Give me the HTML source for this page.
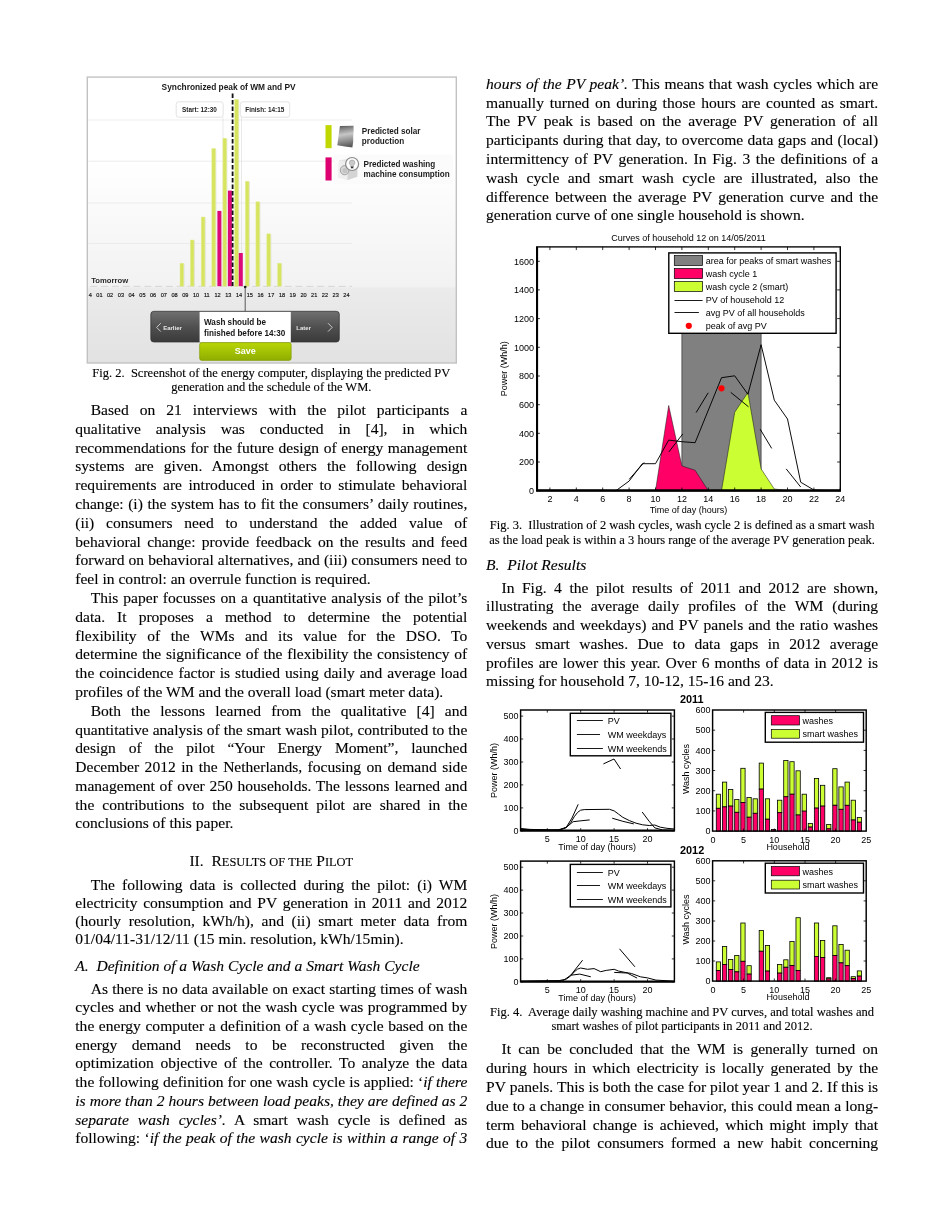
<!DOCTYPE html>
<html><head><meta charset="utf-8"><title>page</title>
<style>
html,body{margin:0;padding:0;background:#fff;}
body{width:952px;height:1232px;position:relative;overflow:hidden;font-family:"Liberation Serif",serif;color:#000;}
.l{position:absolute;font-size:15.56px;line-height:19.0px;height:19.0px;white-space:nowrap;overflow:visible;-webkit-text-stroke:0.12px #000;}
.j{text-align:justify;text-align-last:justify;white-space:normal;}
.a{text-align:left;}
.c{text-align:center;}
.sc{font-size:0.8em;}
svg{position:absolute;left:0;top:0;}
svg text{font-family:"Liberation Sans",sans-serif;}
</style></head><body>
<svg width="952" height="1232" viewBox="0 0 952 1232">
<defs>
<linearGradient id="bg2" x1="0" y1="0" x2="0" y2="1">
<stop offset="0" stop-color="#ffffff"/><stop offset="0.3" stop-color="#ffffff"/><stop offset="0.73" stop-color="#f2f2f2"/><stop offset="0.74" stop-color="#ebebeb"/><stop offset="1" stop-color="#e2e2e2"/>
</linearGradient>
<linearGradient id="dk" x1="0" y1="0" x2="0" y2="1"><stop offset="0" stop-color="#707070"/><stop offset="0.5" stop-color="#505050"/><stop offset="1" stop-color="#3a3a3a"/></linearGradient>
<linearGradient id="gr" x1="0" y1="0" x2="0" y2="1"><stop offset="0" stop-color="#b9d606"/><stop offset="1" stop-color="#8ead00"/></linearGradient>
<linearGradient id="sol" x1="0" y1="0" x2="0.12" y2="1"><stop offset="0" stop-color="#4e4e4e"/><stop offset="0.2" stop-color="#8a8a8a"/><stop offset="0.45" stop-color="#c6c6c6"/><stop offset="0.75" stop-color="#8e8e8e"/><stop offset="1" stop-color="#5c5c5c"/></linearGradient>
</defs>
<rect x="87.3" y="77.1" width="369.0" height="285.9" fill="url(#bg2)" stroke="#c2c2c2" stroke-width="1.4"/>
<line x1="88.3" y1="120" x2="352" y2="120" stroke="#e9e9e9" stroke-width="0.8"/>
<line x1="88.3" y1="161.2" x2="352" y2="161.2" stroke="#e9e9e9" stroke-width="0.8"/>
<line x1="88.3" y1="203" x2="352" y2="203" stroke="#e9e9e9" stroke-width="0.8"/>
<line x1="88.3" y1="243.5" x2="352" y2="243.5" stroke="#e9e9e9" stroke-width="0.8"/>
<line x1="90.3" y1="286.4" x2="352" y2="286.4" stroke="#d4d4d4" stroke-width="0.9" stroke-dasharray="7 3.8"/>
<rect x="176.2" y="101.8" width="47" height="15.4" rx="2.5" fill="#fff" stroke="#dcdcdc" stroke-width="0.8"/>
<rect x="240.3" y="101.8" width="49.4" height="15.4" rx="2.5" fill="#fff" stroke="#dcdcdc" stroke-width="0.8"/>
<line x1="223.0" y1="117" x2="223.0" y2="286" stroke="#e0e0e0" stroke-width="0.7"/>
<line x1="241.5" y1="117" x2="241.5" y2="286" stroke="#e0e0e0" stroke-width="0.7"/>
<rect x="180.6" y="263.8" width="3.9" height="22.4" fill="#c9c9b8" opacity="0.5"/>
<rect x="180.0" y="263.2" width="3.7" height="23.0" fill="#d6e45f" stroke="#e6efa0" stroke-width="0.5"/>
<rect x="190.9" y="240.6" width="3.9" height="45.6" fill="#c9c9b8" opacity="0.5"/>
<rect x="190.3" y="240.0" width="3.7" height="46.2" fill="#d6e45f" stroke="#e6efa0" stroke-width="0.5"/>
<rect x="201.8" y="217.6" width="3.9" height="68.6" fill="#c9c9b8" opacity="0.5"/>
<rect x="201.2" y="217.0" width="3.7" height="69.2" fill="#d6e45f" stroke="#e6efa0" stroke-width="0.5"/>
<rect x="212.4" y="149.1" width="3.9" height="137.1" fill="#c9c9b8" opacity="0.5"/>
<rect x="211.8" y="148.5" width="3.7" height="137.7" fill="#d6e45f" stroke="#e6efa0" stroke-width="0.5"/>
<rect x="223.5" y="138.8" width="3.9" height="147.4" fill="#c9c9b8" opacity="0.5"/>
<rect x="222.9" y="138.2" width="3.7" height="148.0" fill="#d6e45f" stroke="#e6efa0" stroke-width="0.5"/>
<rect x="235.3" y="100.0" width="3.9" height="186.2" fill="#c9c9b8" opacity="0.5"/>
<rect x="234.7" y="99.4" width="3.7" height="186.8" fill="#d6e45f" stroke="#e6efa0" stroke-width="0.5"/>
<rect x="245.9" y="181.8" width="3.9" height="104.4" fill="#c9c9b8" opacity="0.5"/>
<rect x="245.3" y="181.2" width="3.7" height="105.0" fill="#d6e45f" stroke="#e6efa0" stroke-width="0.5"/>
<rect x="256.5" y="202.4" width="3.9" height="83.8" fill="#c9c9b8" opacity="0.5"/>
<rect x="255.9" y="201.8" width="3.7" height="84.4" fill="#d6e45f" stroke="#e6efa0" stroke-width="0.5"/>
<rect x="267.4" y="234.4" width="3.9" height="51.8" fill="#c9c9b8" opacity="0.5"/>
<rect x="266.8" y="233.8" width="3.7" height="52.4" fill="#d6e45f" stroke="#e6efa0" stroke-width="0.5"/>
<rect x="278.2" y="263.8" width="3.9" height="22.4" fill="#c9c9b8" opacity="0.5"/>
<rect x="277.6" y="263.2" width="3.7" height="23.0" fill="#d6e45f" stroke="#e6efa0" stroke-width="0.5"/>
<rect x="217.4" y="210.9" width="4" height="75.3" fill="#dc0a78"/>
<rect x="227.9" y="190.6" width="4" height="95.6" fill="#dc0a78"/>
<rect x="238.8" y="253.0" width="4" height="33.2" fill="#dc0a78"/>
<line x1="232.6" y1="93.5" x2="232.6" y2="286" stroke="#111" stroke-width="1.8" stroke-dasharray="4.6 1.9"/>
<text x="228.6" y="90.4" font-size="8.35" font-weight="bold" text-anchor="middle" fill="#1a1a1a">Synchronized peak of WM and PV</text>
<text x="199.5" y="112.2" font-size="6.4" font-weight="bold" text-anchor="middle" fill="#222">Start: 12:30</text>
<text x="264.8" y="112.2" font-size="6.4" font-weight="bold" text-anchor="middle" fill="#222">Finish: 14:15</text>
<rect x="325.5" y="125.1" width="6.1" height="23.1" fill="#c1d700"/>
<rect x="325.5" y="157.4" width="6.1" height="23.1" fill="#dc0070"/>
<rect x="334" y="154.5" width="119" height="29.5" fill="#fbfbfb"/>
<path d="M339.9 126.0 L353.5 125.7 Q353.9 131 353.2 136 Q353.6 142 352.4 147.5 L345 146.6 L337.3 145.3 Z" fill="url(#sol)"/>
<path d="M339.0 160.2 L351 158.6 L357.3 161.5 L357.3 176.8 L347.5 180.0 L338.4 177.6 Z" fill="#e6e6e6"/>
<path d="M339.0 160.2 L347.8 163 L347.5 180.0 L338.4 177.6 Z" fill="#efefef"/>
<path d="M347.8 163 L357.3 161.5 L357.3 176.8 L347.5 180.0 Z" fill="#d4d4d4"/>
<ellipse cx="344.6" cy="170.2" rx="4.3" ry="4.6" fill="#d9d9d9" stroke="#9a9a9a" stroke-width="0.9"/>
<ellipse cx="344.9" cy="170.6" rx="2.5" ry="2.7" fill="#c4c4c4"/>
<circle cx="352.1" cy="164.0" r="6.5" fill="#fdfdfd" stroke="#8a8a8a" stroke-width="1.2"/>
<path d="M349.3 162.8 a2.8 2.8 0 1 1 5.6 0 q-0.3 1.6 -1.5 2.8 l0 1.4 l-2.6 0 l0 -1.4 q-1.2 -1.2 -1.5 -2.8 Z" fill="#c9c9c9" stroke="#8e8e8e" stroke-width="0.5"/>
<rect x="350.9" y="166.6" width="2.4" height="1.7" fill="#333"/>
<text x="361.8" y="133.8" font-size="8.15" font-weight="bold" fill="#1c1c1c">Predicted solar</text>
<text x="361.8" y="144.4" font-size="8.15" font-weight="bold" fill="#1c1c1c">production</text>
<text x="363.5" y="166.5" font-size="8.15" font-weight="bold" fill="#1c1c1c">Predicted washing</text>
<text x="363.5" y="177.1" font-size="8.15" font-weight="bold" fill="#1c1c1c">machine consumption</text>
<text x="91.2" y="283.0" font-size="7.7" font-weight="bold" fill="#2a2a2a">Tomorrow</text>
<text x="88.8" y="297.4" font-size="5.6" fill="#111" stroke="#111" stroke-width="0.15">4</text>
<text x="99.4" y="297.4" font-size="5.6" text-anchor="middle" fill="#111" stroke="#111" stroke-width="0.15">01</text>
<text x="110.1" y="297.4" font-size="5.6" text-anchor="middle" fill="#111" stroke="#111" stroke-width="0.15">02</text>
<text x="120.9" y="297.4" font-size="5.6" text-anchor="middle" fill="#111" stroke="#111" stroke-width="0.15">03</text>
<text x="131.6" y="297.4" font-size="5.6" text-anchor="middle" fill="#111" stroke="#111" stroke-width="0.15">04</text>
<text x="142.4" y="297.4" font-size="5.6" text-anchor="middle" fill="#111" stroke="#111" stroke-width="0.15">05</text>
<text x="153.1" y="297.4" font-size="5.6" text-anchor="middle" fill="#111" stroke="#111" stroke-width="0.15">06</text>
<text x="163.8" y="297.4" font-size="5.6" text-anchor="middle" fill="#111" stroke="#111" stroke-width="0.15">07</text>
<text x="174.6" y="297.4" font-size="5.6" text-anchor="middle" fill="#111" stroke="#111" stroke-width="0.15">08</text>
<text x="185.3" y="297.4" font-size="5.6" text-anchor="middle" fill="#111" stroke="#111" stroke-width="0.15">09</text>
<text x="196.1" y="297.4" font-size="5.6" text-anchor="middle" fill="#111" stroke="#111" stroke-width="0.15">10</text>
<text x="206.8" y="297.4" font-size="5.6" text-anchor="middle" fill="#111" stroke="#111" stroke-width="0.15">11</text>
<text x="217.5" y="297.4" font-size="5.6" text-anchor="middle" fill="#111" stroke="#111" stroke-width="0.15">12</text>
<text x="228.3" y="297.4" font-size="5.6" text-anchor="middle" fill="#111" stroke="#111" stroke-width="0.15">13</text>
<text x="239.0" y="297.4" font-size="5.6" text-anchor="middle" fill="#111" stroke="#111" stroke-width="0.15">14</text>
<text x="249.8" y="297.4" font-size="5.6" text-anchor="middle" fill="#111" stroke="#111" stroke-width="0.15">15</text>
<text x="260.5" y="297.4" font-size="5.6" text-anchor="middle" fill="#111" stroke="#111" stroke-width="0.15">16</text>
<text x="271.2" y="297.4" font-size="5.6" text-anchor="middle" fill="#111" stroke="#111" stroke-width="0.15">17</text>
<text x="282.0" y="297.4" font-size="5.6" text-anchor="middle" fill="#111" stroke="#111" stroke-width="0.15">18</text>
<text x="292.7" y="297.4" font-size="5.6" text-anchor="middle" fill="#111" stroke="#111" stroke-width="0.15">19</text>
<text x="303.5" y="297.4" font-size="5.6" text-anchor="middle" fill="#111" stroke="#111" stroke-width="0.15">20</text>
<text x="314.2" y="297.4" font-size="5.6" text-anchor="middle" fill="#111" stroke="#111" stroke-width="0.15">21</text>
<text x="324.9" y="297.4" font-size="5.6" text-anchor="middle" fill="#111" stroke="#111" stroke-width="0.15">22</text>
<text x="335.7" y="297.4" font-size="5.6" text-anchor="middle" fill="#111" stroke="#111" stroke-width="0.15">23</text>
<text x="346.4" y="297.4" font-size="5.6" text-anchor="middle" fill="#111" stroke="#111" stroke-width="0.15">24</text>
<circle cx="245.2" cy="287" r="1.3" fill="#111"/>
<line x1="245.2" y1="287" x2="245.2" y2="311.5" stroke="#333" stroke-width="0.8"/>
<rect x="150.8" y="311.3" width="188.5" height="30.7" rx="3" fill="url(#dk)" stroke="#2e2e2e" stroke-width="0.7"/>
<rect x="199.6" y="311.9" width="91.2" height="30.4" fill="#ffffff"/>
<rect x="199.6" y="342.6" width="91.6" height="17.8" rx="2.2" fill="url(#gr)" stroke="#7c9800" stroke-width="0.6"/>
<text x="204.0" y="324.8" font-size="8.15" font-weight="bold" fill="#151515">Wash should be</text>
<text x="204.0" y="335.7" font-size="8.15" font-weight="bold" fill="#151515">finished before 14:30</text>
<text x="245.3" y="354.3" font-size="9.0" font-weight="bold" text-anchor="middle" fill="#ffffff">Save</text>
<text x="163.2" y="329.5" font-size="6" font-weight="bold" fill="#e8e8e8">Earlier</text>
<text x="296.3" y="329.5" font-size="6" font-weight="bold" fill="#e8e8e8">Later</text>
<path d="M160.8 323.2 L156.6 327.4 L160.8 331.6" fill="none" stroke="#d8d8d8" stroke-width="0.9"/>
<path d="M328 323.2 L332.2 327.4 L328 331.6" fill="none" stroke="#d8d8d8" stroke-width="0.9"/>
<text x="688.5" y="240.5" font-size="9.0" text-anchor="middle">Curves of household 12 on 14/05/2011</text>
<rect x="681.9" y="256.0" width="79.2" height="234.7" fill="#808080" stroke="#222" stroke-width="0.6"/>
<polygon points="655.5,490.7 668.7,405.5 681.9,465.9 695.1,470.2 708.3,490.7" fill="#ff0066" stroke="#111" stroke-width="0.5"/>
<polygon points="721.5,490.7 734.7,412.3 747.9,392.5 761.1,468.9 774.3,489.0 787.5,490.7" fill="#ccff33" stroke="#111" stroke-width="0.5"/>
<polyline points="536.7,490.3 602.7,490.3 615.9,490.7 629.1,481.1 642.3,463.7 655.5,463.7 668.7,440.1 681.9,441.7 695.1,442.7 721.5,377.7 734.7,375.8 747.9,394.3 761.1,344.7 774.3,400.2 787.5,419.0 800.7,482.2 813.9,490.0 827.1,490.3 840.3,490.3" fill="none" stroke="#000" stroke-width="0.95"/>
<line x1="629.2" y1="479.3" x2="644.2" y2="462.4" stroke="#000" stroke-width="0.95"/>
<line x1="668.8" y1="452.0" x2="682.8" y2="433.9" stroke="#000" stroke-width="0.95"/>
<line x1="696.1" y1="412.6" x2="708.2" y2="392.8" stroke="#000" stroke-width="0.95"/>
<line x1="730.7" y1="392.3" x2="748.5" y2="406.8" stroke="#000" stroke-width="0.95"/>
<line x1="760.1" y1="429.1" x2="771.7" y2="448.4" stroke="#000" stroke-width="0.95"/>
<line x1="786.2" y1="468.9" x2="800.7" y2="487.0" stroke="#000" stroke-width="0.95"/>
<circle cx="721.5" cy="388.3" r="3.1" fill="#ff0000"/>
<rect x="536.7" y="246.9" width="303.6" height="243.8" fill="none" stroke="#000" stroke-width="1.35"/>
<line x1="536.1" y1="490.5" x2="840.9" y2="490.5" stroke="#000" stroke-width="2.4"/>
<line x1="537.1" y1="246.9" x2="537.1" y2="490.7" stroke="#000" stroke-width="2.0"/>
<line x1="549.9" y1="490.7" x2="549.9" y2="487.5" stroke="#000" stroke-width="0.8"/>
<line x1="549.9" y1="246.9" x2="549.9" y2="250.1" stroke="#000" stroke-width="0.8"/>
<text x="549.9" y="501.9" font-size="9.0" text-anchor="middle">2</text>
<line x1="576.3" y1="490.7" x2="576.3" y2="487.5" stroke="#000" stroke-width="0.8"/>
<line x1="576.3" y1="246.9" x2="576.3" y2="250.1" stroke="#000" stroke-width="0.8"/>
<text x="576.3" y="501.9" font-size="9.0" text-anchor="middle">4</text>
<line x1="602.7" y1="490.7" x2="602.7" y2="487.5" stroke="#000" stroke-width="0.8"/>
<line x1="602.7" y1="246.9" x2="602.7" y2="250.1" stroke="#000" stroke-width="0.8"/>
<text x="602.7" y="501.9" font-size="9.0" text-anchor="middle">6</text>
<line x1="629.1" y1="490.7" x2="629.1" y2="487.5" stroke="#000" stroke-width="0.8"/>
<line x1="629.1" y1="246.9" x2="629.1" y2="250.1" stroke="#000" stroke-width="0.8"/>
<text x="629.1" y="501.9" font-size="9.0" text-anchor="middle">8</text>
<line x1="655.5" y1="490.7" x2="655.5" y2="487.5" stroke="#000" stroke-width="0.8"/>
<line x1="655.5" y1="246.9" x2="655.5" y2="250.1" stroke="#000" stroke-width="0.8"/>
<text x="655.5" y="501.9" font-size="9.0" text-anchor="middle">10</text>
<line x1="681.9" y1="490.7" x2="681.9" y2="487.5" stroke="#000" stroke-width="0.8"/>
<line x1="681.9" y1="246.9" x2="681.9" y2="250.1" stroke="#000" stroke-width="0.8"/>
<text x="681.9" y="501.9" font-size="9.0" text-anchor="middle">12</text>
<line x1="708.3" y1="490.7" x2="708.3" y2="487.5" stroke="#000" stroke-width="0.8"/>
<line x1="708.3" y1="246.9" x2="708.3" y2="250.1" stroke="#000" stroke-width="0.8"/>
<text x="708.3" y="501.9" font-size="9.0" text-anchor="middle">14</text>
<line x1="734.7" y1="490.7" x2="734.7" y2="487.5" stroke="#000" stroke-width="0.8"/>
<line x1="734.7" y1="246.9" x2="734.7" y2="250.1" stroke="#000" stroke-width="0.8"/>
<text x="734.7" y="501.9" font-size="9.0" text-anchor="middle">16</text>
<line x1="761.1" y1="490.7" x2="761.1" y2="487.5" stroke="#000" stroke-width="0.8"/>
<line x1="761.1" y1="246.9" x2="761.1" y2="250.1" stroke="#000" stroke-width="0.8"/>
<text x="761.1" y="501.9" font-size="9.0" text-anchor="middle">18</text>
<line x1="787.5" y1="490.7" x2="787.5" y2="487.5" stroke="#000" stroke-width="0.8"/>
<line x1="787.5" y1="246.9" x2="787.5" y2="250.1" stroke="#000" stroke-width="0.8"/>
<text x="787.5" y="501.9" font-size="9.0" text-anchor="middle">20</text>
<line x1="813.9" y1="490.7" x2="813.9" y2="487.5" stroke="#000" stroke-width="0.8"/>
<line x1="813.9" y1="246.9" x2="813.9" y2="250.1" stroke="#000" stroke-width="0.8"/>
<text x="813.9" y="501.9" font-size="9.0" text-anchor="middle">22</text>
<line x1="840.3" y1="490.7" x2="840.3" y2="487.5" stroke="#000" stroke-width="0.8"/>
<line x1="840.3" y1="246.9" x2="840.3" y2="250.1" stroke="#000" stroke-width="0.8"/>
<text x="840.3" y="501.9" font-size="9.0" text-anchor="middle">24</text>
<line x1="536.7" y1="490.7" x2="539.9" y2="490.7" stroke="#000" stroke-width="0.8"/>
<line x1="840.3" y1="490.7" x2="837.1" y2="490.7" stroke="#000" stroke-width="0.8"/>
<text x="534.1" y="493.9" font-size="9.0" text-anchor="end">0</text>
<line x1="536.7" y1="462.0" x2="539.9" y2="462.0" stroke="#000" stroke-width="0.8"/>
<line x1="840.3" y1="462.0" x2="837.1" y2="462.0" stroke="#000" stroke-width="0.8"/>
<text x="534.1" y="465.2" font-size="9.0" text-anchor="end">200</text>
<line x1="536.7" y1="433.3" x2="539.9" y2="433.3" stroke="#000" stroke-width="0.8"/>
<line x1="840.3" y1="433.3" x2="837.1" y2="433.3" stroke="#000" stroke-width="0.8"/>
<text x="534.1" y="436.5" font-size="9.0" text-anchor="end">400</text>
<line x1="536.7" y1="404.7" x2="539.9" y2="404.7" stroke="#000" stroke-width="0.8"/>
<line x1="840.3" y1="404.7" x2="837.1" y2="404.7" stroke="#000" stroke-width="0.8"/>
<text x="534.1" y="407.9" font-size="9.0" text-anchor="end">600</text>
<line x1="536.7" y1="376.0" x2="539.9" y2="376.0" stroke="#000" stroke-width="0.8"/>
<line x1="840.3" y1="376.0" x2="837.1" y2="376.0" stroke="#000" stroke-width="0.8"/>
<text x="534.1" y="379.2" font-size="9.0" text-anchor="end">800</text>
<line x1="536.7" y1="347.3" x2="539.9" y2="347.3" stroke="#000" stroke-width="0.8"/>
<line x1="840.3" y1="347.3" x2="837.1" y2="347.3" stroke="#000" stroke-width="0.8"/>
<text x="534.1" y="350.5" font-size="9.0" text-anchor="end">1000</text>
<line x1="536.7" y1="318.6" x2="539.9" y2="318.6" stroke="#000" stroke-width="0.8"/>
<line x1="840.3" y1="318.6" x2="837.1" y2="318.6" stroke="#000" stroke-width="0.8"/>
<text x="534.1" y="321.8" font-size="9.0" text-anchor="end">1200</text>
<line x1="536.7" y1="289.9" x2="539.9" y2="289.9" stroke="#000" stroke-width="0.8"/>
<line x1="840.3" y1="289.9" x2="837.1" y2="289.9" stroke="#000" stroke-width="0.8"/>
<text x="534.1" y="293.1" font-size="9.0" text-anchor="end">1400</text>
<line x1="536.7" y1="261.3" x2="539.9" y2="261.3" stroke="#000" stroke-width="0.8"/>
<line x1="840.3" y1="261.3" x2="837.1" y2="261.3" stroke="#000" stroke-width="0.8"/>
<text x="534.1" y="264.5" font-size="9.0" text-anchor="end">1600</text>
<text x="688.5" y="513.4" font-size="9.0" text-anchor="middle">Time of day (hours)</text>
<text transform="translate(506.8,368.8) rotate(-90)" font-size="9.0" text-anchor="middle">Power (Wh/h)</text>
<rect x="668.8" y="252.9" width="167.3" height="80.4" fill="#fff" stroke="#000" stroke-width="1.4"/>
<rect x="674.3" y="255.6" width="28.3" height="9.9" fill="#808080" stroke="#000" stroke-width="0.7"/>
<rect x="674.3" y="268.6" width="28.3" height="9.9" fill="#ff0066" stroke="#000" stroke-width="0.7"/>
<rect x="674.3" y="281.6" width="28.3" height="9.9" fill="#ccff33" stroke="#000" stroke-width="0.7"/>
<line x1="674.5" y1="300.5" x2="702.6" y2="300.5" stroke="#000" stroke-width="0.9"/>
<line x1="674.5" y1="312.5" x2="698.9" y2="312.5" stroke="#000" stroke-width="0.9"/>
<circle cx="688.8" cy="325.8" r="3.1" fill="#ff0000"/>
<text x="705.8" y="264.0" font-size="9.0">area for peaks of smart washes</text>
<text x="705.8" y="277.0" font-size="9.0">wash cycle 1</text>
<text x="705.8" y="290.0" font-size="9.0">wash cycle 2 (smart)</text>
<text x="705.8" y="303.4" font-size="9.0">PV of household 12</text>
<text x="705.8" y="316.4" font-size="9.0">avg PV of all households</text>
<text x="705.8" y="329.1" font-size="9.0">peak of avg PV</text>
<polyline points="520.6,829.0 530.1,829.9 541.2,830.1 552.2,830.1 558.8,829.6 563.2,828.5 567.2,826.8 570.9,822.4 574.2,816.8 577.6,812.4 580.6,810.2 584.2,809.6 609.5,809.3 614.2,810.9 618.4,814.0 622.8,817.3 629.4,820.6 636.0,823.2 642.6,824.8 649.2,825.5 654.8,825.0 660.3,827.2 666.9,828.3 674.6,829.0" fill="none" stroke="#000" stroke-width="1.0" stroke-linejoin="round"/>
<polyline points="520.6,829.6 558.8,830.3 565.9,827.9 572.0,818.0 578.2,804.3" fill="none" stroke="#000" stroke-width="1.0" stroke-linejoin="round"/>
<polyline points="603.4,763.9 614.0,759.0 620.6,769.0" fill="none" stroke="#000" stroke-width="1.0" stroke-linejoin="round"/>
<polyline points="642.2,812.0 649.2,821.3 654.8,827.9 662.5,829.9 674.6,830.3" fill="none" stroke="#000" stroke-width="1.0" stroke-linejoin="round"/>
<polyline points="520.6,828.5 530.1,829.4 558.8,830.1 566.5,827.2 573.1,821.7 580.9,820.8 589.7,819.9" fill="none" stroke="#000" stroke-width="1.0" stroke-linejoin="round"/>
<polyline points="612.2,818.2 622.8,821.3 633.8,823.9" fill="none" stroke="#000" stroke-width="1.0" stroke-linejoin="round"/>
<rect x="520.6" y="710.0" width="153.8" height="120.8" fill="none" stroke="#000" stroke-width="1.45"/>
<line x1="520.6" y1="830.6" x2="674.4" y2="830.6" stroke="#000" stroke-width="2.0"/>
<line x1="547.3" y1="830.8" x2="547.3" y2="828.2" stroke="#000" stroke-width="0.8"/>
<line x1="547.3" y1="710.0" x2="547.3" y2="712.6" stroke="#000" stroke-width="0.8"/>
<text x="547.3" y="842.2" font-size="9.0" text-anchor="middle">5</text>
<line x1="580.7" y1="830.8" x2="580.7" y2="828.2" stroke="#000" stroke-width="0.8"/>
<line x1="580.7" y1="710.0" x2="580.7" y2="712.6" stroke="#000" stroke-width="0.8"/>
<text x="580.7" y="842.2" font-size="9.0" text-anchor="middle">10</text>
<line x1="614.1" y1="830.8" x2="614.1" y2="828.2" stroke="#000" stroke-width="0.8"/>
<line x1="614.1" y1="710.0" x2="614.1" y2="712.6" stroke="#000" stroke-width="0.8"/>
<text x="614.1" y="842.2" font-size="9.0" text-anchor="middle">15</text>
<line x1="647.5" y1="830.8" x2="647.5" y2="828.2" stroke="#000" stroke-width="0.8"/>
<line x1="647.5" y1="710.0" x2="647.5" y2="712.6" stroke="#000" stroke-width="0.8"/>
<text x="647.5" y="842.2" font-size="9.0" text-anchor="middle">20</text>
<line x1="520.6" y1="830.8" x2="523.2" y2="830.8" stroke="#000" stroke-width="0.8"/>
<line x1="674.4" y1="830.8" x2="671.8" y2="830.8" stroke="#000" stroke-width="0.8"/>
<text x="518.6" y="834.0" font-size="9.0" text-anchor="end">0</text>
<line x1="520.6" y1="807.9" x2="523.2" y2="807.9" stroke="#000" stroke-width="0.8"/>
<line x1="674.4" y1="807.9" x2="671.8" y2="807.9" stroke="#000" stroke-width="0.8"/>
<text x="518.6" y="811.1" font-size="9.0" text-anchor="end">100</text>
<line x1="520.6" y1="784.9" x2="523.2" y2="784.9" stroke="#000" stroke-width="0.8"/>
<line x1="674.4" y1="784.9" x2="671.8" y2="784.9" stroke="#000" stroke-width="0.8"/>
<text x="518.6" y="788.1" font-size="9.0" text-anchor="end">200</text>
<line x1="520.6" y1="762.0" x2="523.2" y2="762.0" stroke="#000" stroke-width="0.8"/>
<line x1="674.4" y1="762.0" x2="671.8" y2="762.0" stroke="#000" stroke-width="0.8"/>
<text x="518.6" y="765.2" font-size="9.0" text-anchor="end">300</text>
<line x1="520.6" y1="739.0" x2="523.2" y2="739.0" stroke="#000" stroke-width="0.8"/>
<line x1="674.4" y1="739.0" x2="671.8" y2="739.0" stroke="#000" stroke-width="0.8"/>
<text x="518.6" y="742.2" font-size="9.0" text-anchor="end">400</text>
<line x1="520.6" y1="716.1" x2="523.2" y2="716.1" stroke="#000" stroke-width="0.8"/>
<line x1="674.4" y1="716.1" x2="671.8" y2="716.1" stroke="#000" stroke-width="0.8"/>
<text x="518.6" y="719.3" font-size="9.0" text-anchor="end">500</text>
<text x="597.2" y="849.6" font-size="9.0" text-anchor="middle">Time of day (hours)</text>
<text transform="translate(496.6,770.4) rotate(-90)" font-size="9.0" text-anchor="middle">Power (Wh/h)</text>
<rect x="570.3" y="713.3" width="100.6" height="42.5" fill="#fff" stroke="#000" stroke-width="1.4"/>
<line x1="576.9" y1="720.5" x2="602.9" y2="720.5" stroke="#000" stroke-width="0.9"/>
<text x="607.8" y="723.8" font-size="9.0">PV</text>
<line x1="576.9" y1="734.5" x2="600.0" y2="734.5" stroke="#000" stroke-width="0.9"/>
<text x="607.8" y="737.8" font-size="9.0">WM weekdays</text>
<line x1="576.9" y1="748.5" x2="602.9" y2="748.5" stroke="#000" stroke-width="0.9"/>
<text x="607.8" y="751.8" font-size="9.0">WM weekends</text>
<polyline points="520.6,981.2 558.8,980.7 566.5,979.0 570.9,975.7 574.2,971.9 577.6,969.1 580.6,968.0 587.5,969.3 594.1,968.6 600.7,971.7 606.2,970.4 614.2,969.3 618.4,971.0 625.0,972.4 631.6,973.5 640.4,976.8 647.5,977.9 655.9,980.1 674.6,981.2" fill="none" stroke="#000" stroke-width="1.0" stroke-linejoin="round"/>
<polyline points="520.6,981.4 563.2,980.7 570.9,975.0 582.6,960.2" fill="none" stroke="#000" stroke-width="1.0" stroke-linejoin="round"/>
<polyline points="619.5,948.8 634.9,966.8" fill="none" stroke="#000" stroke-width="1.0" stroke-linejoin="round"/>
<polyline points="570.9,975.2 579.8,974.1 590.8,976.8" fill="none" stroke="#000" stroke-width="1.0" stroke-linejoin="round"/>
<polyline points="614.2,972.4 627.2,973.0 637.1,978.1" fill="none" stroke="#000" stroke-width="1.0" stroke-linejoin="round"/>
<rect x="520.6" y="861.1" width="153.8" height="120.7" fill="none" stroke="#000" stroke-width="1.45"/>
<line x1="520.6" y1="981.6" x2="674.4" y2="981.6" stroke="#000" stroke-width="2.0"/>
<line x1="547.3" y1="981.8" x2="547.3" y2="979.2" stroke="#000" stroke-width="0.8"/>
<line x1="547.3" y1="861.1" x2="547.3" y2="863.7" stroke="#000" stroke-width="0.8"/>
<text x="547.3" y="993.2" font-size="9.0" text-anchor="middle">5</text>
<line x1="580.7" y1="981.8" x2="580.7" y2="979.2" stroke="#000" stroke-width="0.8"/>
<line x1="580.7" y1="861.1" x2="580.7" y2="863.7" stroke="#000" stroke-width="0.8"/>
<text x="580.7" y="993.2" font-size="9.0" text-anchor="middle">10</text>
<line x1="614.1" y1="981.8" x2="614.1" y2="979.2" stroke="#000" stroke-width="0.8"/>
<line x1="614.1" y1="861.1" x2="614.1" y2="863.7" stroke="#000" stroke-width="0.8"/>
<text x="614.1" y="993.2" font-size="9.0" text-anchor="middle">15</text>
<line x1="647.5" y1="981.8" x2="647.5" y2="979.2" stroke="#000" stroke-width="0.8"/>
<line x1="647.5" y1="861.1" x2="647.5" y2="863.7" stroke="#000" stroke-width="0.8"/>
<text x="647.5" y="993.2" font-size="9.0" text-anchor="middle">20</text>
<line x1="520.6" y1="981.8" x2="523.2" y2="981.8" stroke="#000" stroke-width="0.8"/>
<line x1="674.4" y1="981.8" x2="671.8" y2="981.8" stroke="#000" stroke-width="0.8"/>
<text x="518.6" y="985.0" font-size="9.0" text-anchor="end">0</text>
<line x1="520.6" y1="958.9" x2="523.2" y2="958.9" stroke="#000" stroke-width="0.8"/>
<line x1="674.4" y1="958.9" x2="671.8" y2="958.9" stroke="#000" stroke-width="0.8"/>
<text x="518.6" y="962.1" font-size="9.0" text-anchor="end">100</text>
<line x1="520.6" y1="936.0" x2="523.2" y2="936.0" stroke="#000" stroke-width="0.8"/>
<line x1="674.4" y1="936.0" x2="671.8" y2="936.0" stroke="#000" stroke-width="0.8"/>
<text x="518.6" y="939.2" font-size="9.0" text-anchor="end">200</text>
<line x1="520.6" y1="913.0" x2="523.2" y2="913.0" stroke="#000" stroke-width="0.8"/>
<line x1="674.4" y1="913.0" x2="671.8" y2="913.0" stroke="#000" stroke-width="0.8"/>
<text x="518.6" y="916.2" font-size="9.0" text-anchor="end">300</text>
<line x1="520.6" y1="890.1" x2="523.2" y2="890.1" stroke="#000" stroke-width="0.8"/>
<line x1="674.4" y1="890.1" x2="671.8" y2="890.1" stroke="#000" stroke-width="0.8"/>
<text x="518.6" y="893.3" font-size="9.0" text-anchor="end">400</text>
<line x1="520.6" y1="867.2" x2="523.2" y2="867.2" stroke="#000" stroke-width="0.8"/>
<line x1="674.4" y1="867.2" x2="671.8" y2="867.2" stroke="#000" stroke-width="0.8"/>
<text x="518.6" y="870.4" font-size="9.0" text-anchor="end">500</text>
<text x="597.2" y="1000.6" font-size="9.0" text-anchor="middle">Time of day (hours)</text>
<text transform="translate(496.6,921.5) rotate(-90)" font-size="9.0" text-anchor="middle">Power (Wh/h)</text>
<rect x="570.3" y="864.4" width="100.6" height="42.5" fill="#fff" stroke="#000" stroke-width="1.4"/>
<line x1="576.9" y1="872.5" x2="602.9" y2="872.5" stroke="#000" stroke-width="0.9"/>
<text x="607.8" y="875.8" font-size="9.0">PV</text>
<line x1="576.9" y1="885.5" x2="600.0" y2="885.5" stroke="#000" stroke-width="0.9"/>
<text x="607.8" y="888.8" font-size="9.0">WM weekdays</text>
<line x1="576.9" y1="899.5" x2="602.9" y2="899.5" stroke="#000" stroke-width="0.9"/>
<text x="607.8" y="902.8" font-size="9.0">WM weekends</text>
<rect x="716.28" y="794.2" width="4.3" height="14.1" fill="#ccff33" stroke="#000" stroke-width="0.8"/>
<rect x="716.28" y="808.3" width="4.3" height="22.8" fill="#ff0066" stroke="#000" stroke-width="0.8"/>
<rect x="722.41" y="782.1" width="4.3" height="24.8" fill="#ccff33" stroke="#000" stroke-width="0.8"/>
<rect x="722.41" y="806.9" width="4.3" height="24.2" fill="#ff0066" stroke="#000" stroke-width="0.8"/>
<rect x="728.54" y="789.5" width="4.3" height="16.6" fill="#ccff33" stroke="#000" stroke-width="0.8"/>
<rect x="728.54" y="806.1" width="4.3" height="25.0" fill="#ff0066" stroke="#000" stroke-width="0.8"/>
<rect x="734.67" y="799.4" width="4.3" height="12.9" fill="#ccff33" stroke="#000" stroke-width="0.8"/>
<rect x="734.67" y="812.3" width="4.3" height="18.8" fill="#ff0066" stroke="#000" stroke-width="0.8"/>
<rect x="740.80" y="768.3" width="4.3" height="34.1" fill="#ccff33" stroke="#000" stroke-width="0.8"/>
<rect x="740.80" y="802.4" width="4.3" height="28.7" fill="#ff0066" stroke="#000" stroke-width="0.8"/>
<rect x="746.93" y="797.6" width="4.3" height="19.6" fill="#ccff33" stroke="#000" stroke-width="0.8"/>
<rect x="746.93" y="817.2" width="4.3" height="13.9" fill="#ff0066" stroke="#000" stroke-width="0.8"/>
<rect x="753.06" y="798.8" width="4.3" height="14.5" fill="#ccff33" stroke="#000" stroke-width="0.8"/>
<rect x="753.06" y="813.3" width="4.3" height="17.8" fill="#ff0066" stroke="#000" stroke-width="0.8"/>
<rect x="759.19" y="763.1" width="4.3" height="26.0" fill="#ccff33" stroke="#000" stroke-width="0.8"/>
<rect x="759.19" y="789.1" width="4.3" height="42.0" fill="#ff0066" stroke="#000" stroke-width="0.8"/>
<rect x="765.32" y="798.8" width="4.3" height="20.4" fill="#ccff33" stroke="#000" stroke-width="0.8"/>
<rect x="765.32" y="819.2" width="4.3" height="11.9" fill="#ff0066" stroke="#000" stroke-width="0.8"/>
<rect x="771.45" y="829.5" width="4.3" height="1.6" fill="#ff0066" stroke="#000" stroke-width="0.8"/>
<rect x="777.58" y="800.2" width="4.3" height="12.5" fill="#ccff33" stroke="#000" stroke-width="0.8"/>
<rect x="777.58" y="812.7" width="4.3" height="18.4" fill="#ff0066" stroke="#000" stroke-width="0.8"/>
<rect x="783.71" y="760.5" width="4.3" height="36.3" fill="#ccff33" stroke="#000" stroke-width="0.8"/>
<rect x="783.71" y="796.8" width="4.3" height="34.3" fill="#ff0066" stroke="#000" stroke-width="0.8"/>
<rect x="789.84" y="761.7" width="4.3" height="32.5" fill="#ccff33" stroke="#000" stroke-width="0.8"/>
<rect x="789.84" y="794.2" width="4.3" height="36.9" fill="#ff0066" stroke="#000" stroke-width="0.8"/>
<rect x="795.97" y="770.8" width="4.3" height="44.2" fill="#ccff33" stroke="#000" stroke-width="0.8"/>
<rect x="795.97" y="815.0" width="4.3" height="16.1" fill="#ff0066" stroke="#000" stroke-width="0.8"/>
<rect x="802.10" y="794.2" width="4.3" height="17.0" fill="#ccff33" stroke="#000" stroke-width="0.8"/>
<rect x="802.10" y="811.1" width="4.3" height="20.0" fill="#ff0066" stroke="#000" stroke-width="0.8"/>
<rect x="808.23" y="823.6" width="4.3" height="3.4" fill="#ccff33" stroke="#000" stroke-width="0.8"/>
<rect x="808.23" y="827.1" width="4.3" height="4.0" fill="#ff0066" stroke="#000" stroke-width="0.8"/>
<rect x="814.36" y="778.4" width="4.3" height="29.7" fill="#ccff33" stroke="#000" stroke-width="0.8"/>
<rect x="814.36" y="808.1" width="4.3" height="23.0" fill="#ff0066" stroke="#000" stroke-width="0.8"/>
<rect x="820.49" y="785.3" width="4.3" height="20.8" fill="#ccff33" stroke="#000" stroke-width="0.8"/>
<rect x="820.49" y="806.1" width="4.3" height="25.0" fill="#ff0066" stroke="#000" stroke-width="0.8"/>
<rect x="826.62" y="824.4" width="4.3" height="4.4" fill="#ccff33" stroke="#000" stroke-width="0.8"/>
<rect x="826.62" y="828.9" width="4.3" height="2.2" fill="#ff0066" stroke="#000" stroke-width="0.8"/>
<rect x="832.75" y="768.7" width="4.3" height="36.5" fill="#ccff33" stroke="#000" stroke-width="0.8"/>
<rect x="832.75" y="805.3" width="4.3" height="25.8" fill="#ff0066" stroke="#000" stroke-width="0.8"/>
<rect x="838.88" y="786.9" width="4.3" height="22.4" fill="#ccff33" stroke="#000" stroke-width="0.8"/>
<rect x="838.88" y="809.3" width="4.3" height="21.8" fill="#ff0066" stroke="#000" stroke-width="0.8"/>
<rect x="845.01" y="782.1" width="4.3" height="23.2" fill="#ccff33" stroke="#000" stroke-width="0.8"/>
<rect x="845.01" y="805.3" width="4.3" height="25.8" fill="#ff0066" stroke="#000" stroke-width="0.8"/>
<rect x="851.14" y="800.2" width="4.3" height="19.8" fill="#ccff33" stroke="#000" stroke-width="0.8"/>
<rect x="851.14" y="820.0" width="4.3" height="11.1" fill="#ff0066" stroke="#000" stroke-width="0.8"/>
<rect x="857.27" y="817.4" width="4.3" height="4.8" fill="#ccff33" stroke="#000" stroke-width="0.8"/>
<rect x="857.27" y="822.2" width="4.3" height="8.9" fill="#ff0066" stroke="#000" stroke-width="0.8"/>
<rect x="712.6" y="710.0" width="153.6" height="121.1" fill="none" stroke="#000" stroke-width="1.45"/>
<text x="713.0" y="842.5" font-size="9.0" text-anchor="middle">0</text>
<line x1="743.6" y1="831.1" x2="743.6" y2="828.5" stroke="#000" stroke-width="0.8"/>
<line x1="743.6" y1="710.0" x2="743.6" y2="712.6" stroke="#000" stroke-width="0.8"/>
<text x="743.6" y="842.5" font-size="9.0" text-anchor="middle">5</text>
<line x1="774.3" y1="831.1" x2="774.3" y2="828.5" stroke="#000" stroke-width="0.8"/>
<line x1="774.3" y1="710.0" x2="774.3" y2="712.6" stroke="#000" stroke-width="0.8"/>
<text x="774.3" y="842.5" font-size="9.0" text-anchor="middle">10</text>
<line x1="805.0" y1="831.1" x2="805.0" y2="828.5" stroke="#000" stroke-width="0.8"/>
<line x1="805.0" y1="710.0" x2="805.0" y2="712.6" stroke="#000" stroke-width="0.8"/>
<text x="805.0" y="842.5" font-size="9.0" text-anchor="middle">15</text>
<line x1="835.6" y1="831.1" x2="835.6" y2="828.5" stroke="#000" stroke-width="0.8"/>
<line x1="835.6" y1="710.0" x2="835.6" y2="712.6" stroke="#000" stroke-width="0.8"/>
<text x="835.6" y="842.5" font-size="9.0" text-anchor="middle">20</text>
<text x="866.2" y="842.5" font-size="9.0" text-anchor="middle">25</text>
<text x="710.6" y="834.3" font-size="9.0" text-anchor="end">0</text>
<line x1="712.6" y1="810.9" x2="715.2" y2="810.9" stroke="#000" stroke-width="0.8"/>
<line x1="866.2" y1="810.9" x2="863.6" y2="810.9" stroke="#000" stroke-width="0.8"/>
<text x="710.6" y="814.1" font-size="9.0" text-anchor="end">100</text>
<line x1="712.6" y1="790.7" x2="715.2" y2="790.7" stroke="#000" stroke-width="0.8"/>
<line x1="866.2" y1="790.7" x2="863.6" y2="790.7" stroke="#000" stroke-width="0.8"/>
<text x="710.6" y="793.9" font-size="9.0" text-anchor="end">200</text>
<line x1="712.6" y1="770.5" x2="715.2" y2="770.5" stroke="#000" stroke-width="0.8"/>
<line x1="866.2" y1="770.5" x2="863.6" y2="770.5" stroke="#000" stroke-width="0.8"/>
<text x="710.6" y="773.8" font-size="9.0" text-anchor="end">300</text>
<line x1="712.6" y1="750.4" x2="715.2" y2="750.4" stroke="#000" stroke-width="0.8"/>
<line x1="866.2" y1="750.4" x2="863.6" y2="750.4" stroke="#000" stroke-width="0.8"/>
<text x="710.6" y="753.6" font-size="9.0" text-anchor="end">400</text>
<line x1="712.6" y1="730.2" x2="715.2" y2="730.2" stroke="#000" stroke-width="0.8"/>
<line x1="866.2" y1="730.2" x2="863.6" y2="730.2" stroke="#000" stroke-width="0.8"/>
<text x="710.6" y="733.4" font-size="9.0" text-anchor="end">500</text>
<text x="710.6" y="713.2" font-size="9.0" text-anchor="end">600</text>
<text x="787.9" y="850.4" font-size="9.0" text-anchor="middle">Household</text>
<text transform="translate(688.6,769.0) rotate(-90)" font-size="9.0" text-anchor="middle">Wash cycles</text>
<rect x="765.3" y="712.4" width="98.2" height="29.8" fill="#fff" stroke="#000" stroke-width="1.4"/>
<rect x="771.3" y="715.7" width="28.2" height="9.3" fill="#ff0066" stroke="#000" stroke-width="0.7"/>
<rect x="771.3" y="729.4" width="28.2" height="8.8" fill="#ccff33" stroke="#000" stroke-width="0.7"/>
<text x="802.4" y="724.3" font-size="9.0">washes</text>
<text x="802.4" y="737.3" font-size="9.0">smart washes</text>
<text x="680.0" y="703.4" font-size="10.9" font-weight="bold">2011</text>
<rect x="716.28" y="961.9" width="4.3" height="8.6" fill="#ccff33" stroke="#000" stroke-width="0.8"/>
<rect x="716.28" y="970.5" width="4.3" height="10.6" fill="#ff0066" stroke="#000" stroke-width="0.8"/>
<rect x="722.41" y="946.6" width="4.3" height="17.8" fill="#ccff33" stroke="#000" stroke-width="0.8"/>
<rect x="722.41" y="964.5" width="4.3" height="16.6" fill="#ff0066" stroke="#000" stroke-width="0.8"/>
<rect x="728.54" y="959.4" width="4.3" height="10.0" fill="#ccff33" stroke="#000" stroke-width="0.8"/>
<rect x="728.54" y="969.5" width="4.3" height="11.6" fill="#ff0066" stroke="#000" stroke-width="0.8"/>
<rect x="734.67" y="955.4" width="4.3" height="16.4" fill="#ccff33" stroke="#000" stroke-width="0.8"/>
<rect x="734.67" y="971.9" width="4.3" height="9.2" fill="#ff0066" stroke="#000" stroke-width="0.8"/>
<rect x="740.80" y="923.0" width="4.3" height="38.3" fill="#ccff33" stroke="#000" stroke-width="0.8"/>
<rect x="740.80" y="961.3" width="4.3" height="19.8" fill="#ff0066" stroke="#000" stroke-width="0.8"/>
<rect x="746.93" y="965.7" width="4.3" height="8.4" fill="#ccff33" stroke="#000" stroke-width="0.8"/>
<rect x="746.93" y="974.1" width="4.3" height="7.0" fill="#ff0066" stroke="#000" stroke-width="0.8"/>
<rect x="759.19" y="930.6" width="4.3" height="20.7" fill="#ccff33" stroke="#000" stroke-width="0.8"/>
<rect x="759.19" y="951.2" width="4.3" height="29.9" fill="#ff0066" stroke="#000" stroke-width="0.8"/>
<rect x="765.32" y="945.4" width="4.3" height="25.7" fill="#ccff33" stroke="#000" stroke-width="0.8"/>
<rect x="765.32" y="971.1" width="4.3" height="10.0" fill="#ff0066" stroke="#000" stroke-width="0.8"/>
<rect x="777.58" y="964.5" width="4.3" height="8.6" fill="#ccff33" stroke="#000" stroke-width="0.8"/>
<rect x="777.58" y="973.1" width="4.3" height="8.0" fill="#ff0066" stroke="#000" stroke-width="0.8"/>
<rect x="783.71" y="959.8" width="4.3" height="7.4" fill="#ccff33" stroke="#000" stroke-width="0.8"/>
<rect x="783.71" y="967.3" width="4.3" height="13.8" fill="#ff0066" stroke="#000" stroke-width="0.8"/>
<rect x="789.84" y="941.6" width="4.3" height="23.9" fill="#ccff33" stroke="#000" stroke-width="0.8"/>
<rect x="789.84" y="965.5" width="4.3" height="15.6" fill="#ff0066" stroke="#000" stroke-width="0.8"/>
<rect x="795.97" y="917.7" width="4.3" height="52.7" fill="#ccff33" stroke="#000" stroke-width="0.8"/>
<rect x="795.97" y="970.5" width="4.3" height="10.6" fill="#ff0066" stroke="#000" stroke-width="0.8"/>
<rect x="814.36" y="923.0" width="4.3" height="33.5" fill="#ccff33" stroke="#000" stroke-width="0.8"/>
<rect x="814.36" y="956.4" width="4.3" height="24.7" fill="#ff0066" stroke="#000" stroke-width="0.8"/>
<rect x="820.49" y="940.4" width="4.3" height="17.0" fill="#ccff33" stroke="#000" stroke-width="0.8"/>
<rect x="820.49" y="957.4" width="4.3" height="23.7" fill="#ff0066" stroke="#000" stroke-width="0.8"/>
<rect x="826.62" y="977.7" width="4.3" height="1.2" fill="#ccff33" stroke="#000" stroke-width="0.8"/>
<rect x="826.62" y="978.9" width="4.3" height="2.2" fill="#ff0066" stroke="#000" stroke-width="0.8"/>
<rect x="832.75" y="925.8" width="4.3" height="29.7" fill="#ccff33" stroke="#000" stroke-width="0.8"/>
<rect x="832.75" y="955.4" width="4.3" height="25.7" fill="#ff0066" stroke="#000" stroke-width="0.8"/>
<rect x="838.88" y="944.4" width="4.3" height="18.4" fill="#ccff33" stroke="#000" stroke-width="0.8"/>
<rect x="838.88" y="962.9" width="4.3" height="18.2" fill="#ff0066" stroke="#000" stroke-width="0.8"/>
<rect x="845.01" y="950.2" width="4.3" height="15.4" fill="#ccff33" stroke="#000" stroke-width="0.8"/>
<rect x="845.01" y="965.7" width="4.3" height="15.4" fill="#ff0066" stroke="#000" stroke-width="0.8"/>
<rect x="851.14" y="976.7" width="4.3" height="1.8" fill="#ccff33" stroke="#000" stroke-width="0.8"/>
<rect x="851.14" y="978.5" width="4.3" height="2.6" fill="#ff0066" stroke="#000" stroke-width="0.8"/>
<rect x="857.27" y="970.9" width="4.3" height="5.2" fill="#ccff33" stroke="#000" stroke-width="0.8"/>
<rect x="857.27" y="976.1" width="4.3" height="5.0" fill="#ff0066" stroke="#000" stroke-width="0.8"/>
<rect x="712.6" y="860.8" width="153.6" height="120.3" fill="none" stroke="#000" stroke-width="1.45"/>
<text x="713.0" y="992.5" font-size="9.0" text-anchor="middle">0</text>
<line x1="743.6" y1="981.1" x2="743.6" y2="978.5" stroke="#000" stroke-width="0.8"/>
<line x1="743.6" y1="860.8" x2="743.6" y2="863.4" stroke="#000" stroke-width="0.8"/>
<text x="743.6" y="992.5" font-size="9.0" text-anchor="middle">5</text>
<line x1="774.3" y1="981.1" x2="774.3" y2="978.5" stroke="#000" stroke-width="0.8"/>
<line x1="774.3" y1="860.8" x2="774.3" y2="863.4" stroke="#000" stroke-width="0.8"/>
<text x="774.3" y="992.5" font-size="9.0" text-anchor="middle">10</text>
<line x1="805.0" y1="981.1" x2="805.0" y2="978.5" stroke="#000" stroke-width="0.8"/>
<line x1="805.0" y1="860.8" x2="805.0" y2="863.4" stroke="#000" stroke-width="0.8"/>
<text x="805.0" y="992.5" font-size="9.0" text-anchor="middle">15</text>
<line x1="835.6" y1="981.1" x2="835.6" y2="978.5" stroke="#000" stroke-width="0.8"/>
<line x1="835.6" y1="860.8" x2="835.6" y2="863.4" stroke="#000" stroke-width="0.8"/>
<text x="835.6" y="992.5" font-size="9.0" text-anchor="middle">20</text>
<text x="866.2" y="992.5" font-size="9.0" text-anchor="middle">25</text>
<text x="710.6" y="984.3" font-size="9.0" text-anchor="end">0</text>
<line x1="712.6" y1="961.0" x2="715.2" y2="961.0" stroke="#000" stroke-width="0.8"/>
<line x1="866.2" y1="961.0" x2="863.6" y2="961.0" stroke="#000" stroke-width="0.8"/>
<text x="710.6" y="964.2" font-size="9.0" text-anchor="end">100</text>
<line x1="712.6" y1="941.0" x2="715.2" y2="941.0" stroke="#000" stroke-width="0.8"/>
<line x1="866.2" y1="941.0" x2="863.6" y2="941.0" stroke="#000" stroke-width="0.8"/>
<text x="710.6" y="944.2" font-size="9.0" text-anchor="end">200</text>
<line x1="712.6" y1="921.0" x2="715.2" y2="921.0" stroke="#000" stroke-width="0.8"/>
<line x1="866.2" y1="921.0" x2="863.6" y2="921.0" stroke="#000" stroke-width="0.8"/>
<text x="710.6" y="924.2" font-size="9.0" text-anchor="end">300</text>
<line x1="712.6" y1="900.9" x2="715.2" y2="900.9" stroke="#000" stroke-width="0.8"/>
<line x1="866.2" y1="900.9" x2="863.6" y2="900.9" stroke="#000" stroke-width="0.8"/>
<text x="710.6" y="904.1" font-size="9.0" text-anchor="end">400</text>
<line x1="712.6" y1="880.8" x2="715.2" y2="880.8" stroke="#000" stroke-width="0.8"/>
<line x1="866.2" y1="880.8" x2="863.6" y2="880.8" stroke="#000" stroke-width="0.8"/>
<text x="710.6" y="884.0" font-size="9.0" text-anchor="end">500</text>
<text x="710.6" y="864.0" font-size="9.0" text-anchor="end">600</text>
<text x="787.9" y="1000.4" font-size="9.0" text-anchor="middle">Household</text>
<text transform="translate(688.6,919.5) rotate(-90)" font-size="9.0" text-anchor="middle">Wash cycles</text>
<rect x="765.3" y="863.2" width="98.2" height="29.8" fill="#fff" stroke="#000" stroke-width="1.4"/>
<rect x="771.3" y="866.5" width="28.2" height="9.3" fill="#ff0066" stroke="#000" stroke-width="0.7"/>
<rect x="771.3" y="880.2" width="28.2" height="8.8" fill="#ccff33" stroke="#000" stroke-width="0.7"/>
<text x="802.4" y="875.1" font-size="9.0">washes</text>
<text x="802.4" y="888.1" font-size="9.0">smart washes</text>
<text x="680.0" y="853.8" font-size="10.9" font-weight="bold">2012</text>
</svg>
<div class="l c" style="left:75.30px;top:364.00px;width:392.00px;font-size:12.52px;line-height:18px;height:18px;">Fig. 2.&nbsp; Screenshot of the energy computer, displaying the predicted PV</div>
<div class="l c" style="left:75.30px;top:378.00px;width:392.00px;font-size:12.52px;line-height:18px;height:18px;">generation and the schedule of the WM.</div>
<div class="l a" style="left:90.70px;top:400.00px;width:376.60px;word-spacing:7.136px;">Based on 21 interviews with the pilot participants a</div>
<div class="l a" style="left:75.30px;top:419.00px;width:392.00px;word-spacing:10.973px;">qualitative analysis was conducted in [4], in which</div>
<div class="l a" style="left:75.30px;top:438.00px;width:392.00px;word-spacing:0.719px;">recommendations for the future design of energy management</div>
<div class="l a" style="left:75.30px;top:456.00px;width:392.00px;word-spacing:6.279px;">systems are given. Amongst others the following design</div>
<div class="l a" style="left:75.30px;top:475.00px;width:392.00px;word-spacing:2.654px;">requirements are introduced in order to stimulate behavioral</div>
<div class="l a" style="left:75.30px;top:494.00px;width:392.00px;word-spacing:0.673px;">change: (i) the system has to fit the consumers’ daily routines,</div>
<div class="l a" style="left:75.30px;top:513.00px;width:392.00px;word-spacing:7.879px;">(ii) consumers need to understand the added value of</div>
<div class="l a" style="left:75.30px;top:532.00px;width:392.00px;word-spacing:2.379px;">behavioral change: provide feedback on the results and feed</div>
<div class="l a" style="left:75.30px;top:550.00px;width:392.00px;word-spacing:0.162px;">forward on behavioral alternatives, and (iii) consumers need to</div>
<div class="l a" style="left:75.30px;top:569.00px;width:392.00px;">feel in control: an overrule function is required.</div>
<div class="l a" style="left:90.70px;top:588.00px;width:376.60px;word-spacing:1.114px;">This paper focusses on a quantitative analysis of the pilot’s</div>
<div class="l a" style="left:75.30px;top:607.00px;width:392.00px;word-spacing:8.146px;">data. It proposes a method to determine the potential</div>
<div class="l a" style="left:75.30px;top:626.00px;width:392.00px;word-spacing:6.678px;">flexibility of the WMs and its value for the DSO. To</div>
<div class="l a" style="left:75.30px;top:644.00px;width:392.00px;word-spacing:0.863px;">determine the significance of the flexibility the consistency of</div>
<div class="l a" style="left:75.30px;top:663.00px;width:392.00px;word-spacing:1.104px;">the coincidence factor is studied using daily and average load</div>
<div class="l a" style="left:75.30px;top:682.00px;width:392.00px;">profiles of the WM and the overall load (smart meter data).</div>
<div class="l a" style="left:90.70px;top:701.00px;width:376.60px;word-spacing:6.274px;">Both the lessons learned from the qualitative [4] and</div>
<div class="l a" style="left:75.30px;top:720.00px;width:392.00px;word-spacing:0.090px;">quantitative analysis of the smart wash pilot, contributed to the</div>
<div class="l a" style="left:75.30px;top:738.00px;width:392.00px;word-spacing:8.893px;">design of the pilot “Your Energy Moment”, launched</div>
<div class="l a" style="left:75.30px;top:757.00px;width:392.00px;word-spacing:1.562px;">December 2012 in the Netherlands, focusing on demand side</div>
<div class="l a" style="left:75.30px;top:776.00px;width:392.00px;word-spacing:0.842px;">management of over 250 households. The lessons learned and</div>
<div class="l a" style="left:75.30px;top:795.00px;width:392.00px;word-spacing:4.073px;">the contributions to the subsequent pilot are shared in the</div>
<div class="l a" style="left:75.30px;top:813.00px;width:392.00px;">conclusions of this paper.</div>
<div class="l c" style="left:75.30px;top:851.00px;width:392.00px;">II.&nbsp; R<span class="sc">ESULTS OF THE</span> P<span class="sc">ILOT</span></div>
<div class="l a" style="left:90.70px;top:875.00px;width:376.60px;word-spacing:3.258px;">The following data is collected during the pilot: (i) WM</div>
<div class="l a" style="left:75.30px;top:893.00px;width:392.00px;word-spacing:1.828px;">electricity consumption and PV generation in 2011 and 2012</div>
<div class="l a" style="left:75.30px;top:911.00px;width:392.00px;word-spacing:3.775px;">(hourly resolution, kWh/h), and (ii) smart meter data from</div>
<div class="l a" style="left:75.30px;top:929.00px;width:392.00px;">01/04/11-31/12/11 (15 min. resolution, kWh/15min).</div>
<div class="l a" style="left:75.30px;top:956.00px;width:392.00px;"><i>A.&nbsp; Definition of a Wash Cycle and a Smart Wash Cycle</i></div>
<div class="l a" style="left:90.70px;top:979.00px;width:376.60px;word-spacing:0.364px;">As there is no data available on exact starting times of wash</div>
<div class="l a" style="left:75.30px;top:997.00px;width:392.00px;word-spacing:0.605px;">cycles and whether or not the wash cycle was programmed by</div>
<div class="l a" style="left:75.30px;top:1016.00px;width:392.00px;word-spacing:0.693px;">the energy computer a definition of a wash cycle based on the</div>
<div class="l a" style="left:75.30px;top:1035.00px;width:392.00px;word-spacing:10.587px;">energy demand needs to be reconstructed given the</div>
<div class="l a" style="left:75.30px;top:1053.00px;width:392.00px;word-spacing:2.709px;">optimization objective of the controller. To analyze the data</div>
<div class="l a" style="left:75.30px;top:1072.00px;width:392.00px;word-spacing:0.227px;">the following definition for one wash cycle is applied: ‘<i>if there</i></div>
<div class="l a" style="left:75.30px;top:1091.00px;width:392.00px;word-spacing:0.126px;"><i>is more than 2 hours between load peaks, they are defined as 2</i></div>
<div class="l a" style="left:75.30px;top:1110.00px;width:392.00px;word-spacing:5.080px;"><i>separate wash cycles’.</i> A smart wash cycle is defined as</div>
<div class="l a" style="left:75.30px;top:1128.00px;width:392.00px;word-spacing:0.493px;">following: ‘<i>if the peak of the wash cycle is within a range of 3</i></div>
<div class="l a" style="left:486.10px;top:74.00px;width:392.00px;word-spacing:0.676px;"><i>hours of the PV peak’.</i> This means that wash cycles which are</div>
<div class="l a" style="left:486.10px;top:93.00px;width:392.00px;word-spacing:1.819px;">manually turned on during those hours are counted as smart.</div>
<div class="l a" style="left:486.10px;top:111.00px;width:392.00px;word-spacing:3.072px;">The PV peak is based on the average PV generation of all</div>
<div class="l a" style="left:486.10px;top:130.00px;width:392.00px;word-spacing:0.497px;">participants during that day, to overcome data gaps and (local)</div>
<div class="l a" style="left:486.10px;top:149.00px;width:392.00px;word-spacing:1.750px;">intermittency of PV generation. In Fig. 3 the definitions of a</div>
<div class="l a" style="left:486.10px;top:168.00px;width:392.00px;word-spacing:4.606px;">wash cycle and smart wash cycle are illustrated, also the</div>
<div class="l a" style="left:486.10px;top:187.00px;width:392.00px;word-spacing:2.236px;">difference between the average PV generation curve and the</div>
<div class="l a" style="left:486.10px;top:205.00px;width:392.00px;">generation curve of one single household is shown.</div>
<div class="l c" style="left:486.10px;top:516.00px;width:392.00px;font-size:12.52px;line-height:18px;height:18px;">Fig. 3.&nbsp; Illustration of 2 wash cycles, wash cycle 2 is defined as a smart wash</div>
<div class="l c" style="left:486.10px;top:531.00px;width:392.00px;font-size:12.52px;line-height:18px;height:18px;">as the load peak is within a 3 hours range of the average PV generation peak.</div>
<div class="l a" style="left:486.10px;top:555.00px;width:392.00px;"><i>B.&nbsp; Pilot Results</i></div>
<div class="l a" style="left:501.50px;top:578.00px;width:376.60px;word-spacing:3.630px;">In Fig. 4 the pilot results of 2011 and 2012 are shown,</div>
<div class="l a" style="left:486.10px;top:596.00px;width:392.00px;word-spacing:5.213px;">illustrating the average daily profiles of the WM (during</div>
<div class="l a" style="left:486.10px;top:615.00px;width:392.00px;word-spacing:1.134px;">weekends and weekdays) and PV panels and the ratio washes</div>
<div class="l a" style="left:486.10px;top:634.00px;width:392.00px;word-spacing:5.562px;">versus smart washes. Due to data gaps in 2012 average</div>
<div class="l a" style="left:486.10px;top:653.00px;width:392.00px;word-spacing:1.184px;">profiles are lower this year. Over 6 months of data in 2012 is</div>
<div class="l a" style="left:486.10px;top:671.00px;width:392.00px;">missing for household 7, 10-12, 15-16 and 23.</div>
<div class="l c" style="left:486.10px;top:1003.00px;width:392.00px;font-size:12.52px;line-height:18px;height:18px;">Fig. 4.&nbsp; Average daily washing machine and PV curves, and total washes and</div>
<div class="l c" style="left:486.10px;top:1017.00px;width:392.00px;font-size:12.52px;line-height:18px;height:18px;">smart washes of pilot participants in 2011 and 2012.</div>
<div class="l a" style="left:501.50px;top:1039.00px;width:376.60px;word-spacing:3.410px;">It can be concluded that the WM is generally turned on</div>
<div class="l a" style="left:486.10px;top:1058.00px;width:392.00px;word-spacing:2.444px;">during hours in which electricity is locally generated by the</div>
<div class="l a" style="left:486.10px;top:1077.00px;width:392.00px;word-spacing:0.061px;">PV panels. This is both the case for pilot year 1 and 2. If this is</div>
<div class="l a" style="left:486.10px;top:1096.00px;width:392.00px;word-spacing:0.291px;">due to a change in consumer behavior, this could mean a long-</div>
<div class="l a" style="left:486.10px;top:1115.00px;width:392.00px;word-spacing:2.426px;">term behavioral change is achieved, which might imply that</div>
<div class="l a" style="left:486.10px;top:1133.00px;width:392.00px;word-spacing:3.405px;">due to the pilot consumers formed a new habit concerning</div>
</body></html>
